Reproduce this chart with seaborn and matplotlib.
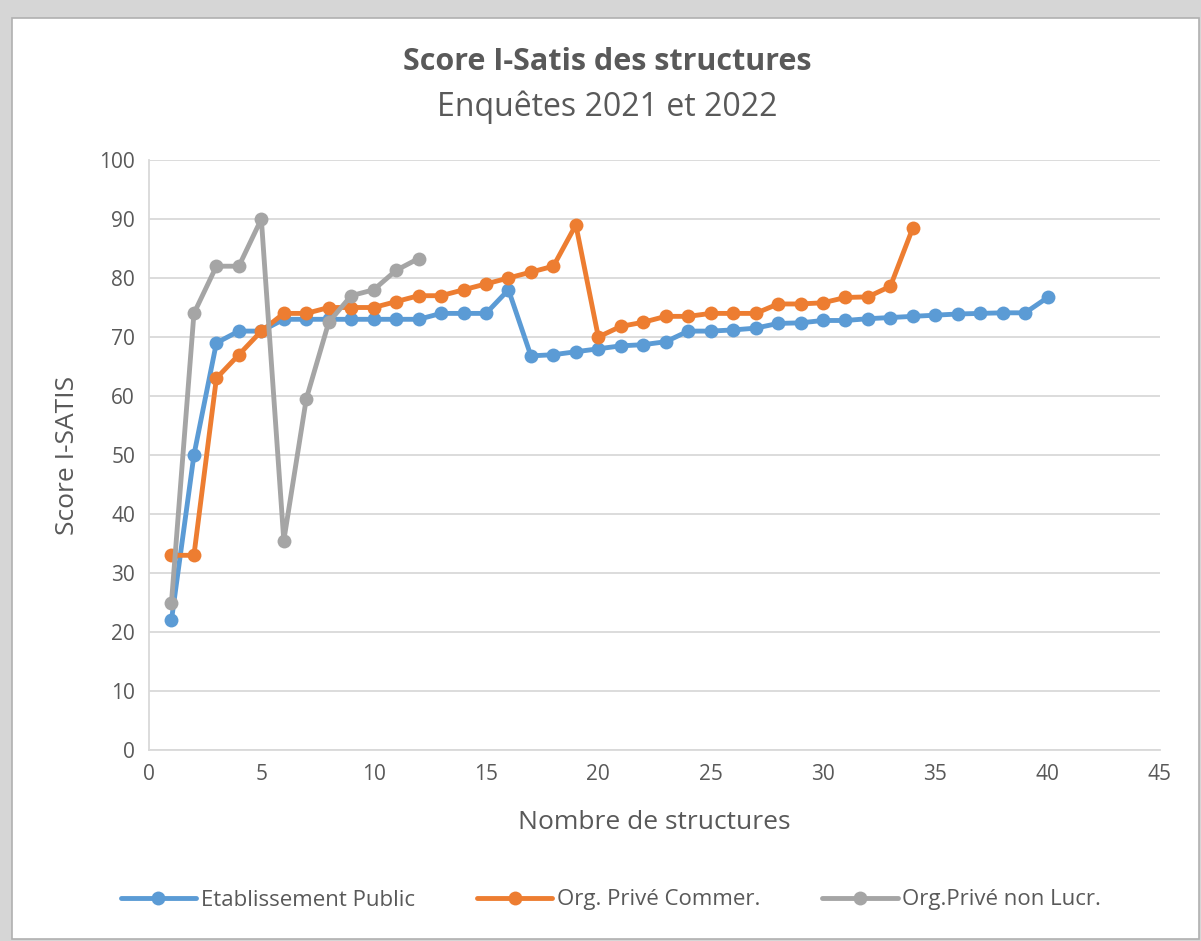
import pandas as pd
import seaborn as sb
import matplotlib.pyplot as plt
from matplotlib.patches import Rectangle

# values
x_public = list(range(1, 41))
y_public = [22, 50, 69, 71, 71, 73, 73, 73, 73, 73,
            73, 73, 74, 74, 74, 78, 66.8, 67, 67.5, 68,
            68.5, 68.7, 69.2, 71, 71, 71.2, 71.5, 72.3, 72.4, 72.8,
            72.8, 73.1, 73.3, 73.5, 73.7, 73.9, 74, 74.1, 74.1, 76.7]

x_commer = list(range(1, 35))
y_commer = [33, 33, 63, 67, 71, 74, 74, 75, 75, 75,
            76, 77, 77, 78, 79, 80, 81, 82, 89, 70,
            71.8, 72.5, 73.5, 73.5, 74, 74, 74, 75.6, 75.6, 75.8,
            76.7, 76.8, 78.6, 88.5]

x_nonlucr = list(range(1, 13))
y_nonlucr = [25, 74, 82, 82, 90, 35.5, 59.5, 72.5, 77, 78, 81.3, 83.3]

series_names = ['Etablissement Public', 'Org. Privé Commer.', 'Org.Privé non Lucr.']
colors = ['#5B9BD5', '#ED7D31', '#A5A5A5']

df = pd.concat([
    pd.DataFrame({'x': x_public, 'y': y_public, 'serie': series_names[0]}),
    pd.DataFrame({'x': x_commer, 'y': y_commer, 'serie': series_names[1]}),
    pd.DataFrame({'x': x_nonlucr, 'y': y_nonlucr, 'serie': series_names[2]}),
])

sb.set_style('white')
plt.rcParams['font.family'] = ['Open Sans', 'DejaVu Sans']
txt = '#595959'

fig = plt.figure(figsize=(12.01, 9.41), dpi=100, facecolor='#D6D6D6')
W, H = 1201, 941
# white chart frame with shadow
frame = Rectangle((12 / W, 1 - 939 / H), (1199 - 12) / W, (939 - 18) / H,
                  transform=fig.transFigure, facecolor='white',
                  edgecolor='#B0B0B0', lw=1.2, zorder=-10)
fig.add_artist(frame)

ax = fig.add_axes([149 / W, 1 - 750 / H, (1160 - 149) / W, (750 - 160) / H])
ax.set_facecolor('white')

sb.lineplot(data=df, x='x', y='y', hue='serie', hue_order=series_names,
            palette=colors, marker='o', markersize=10, markeredgewidth=0,
            linewidth=3.5, sort=False, estimator=None, ax=ax, zorder=3)

ax.set_xlim(0, 45)
ax.set_ylim(0, 100)
ax.set_xticks(range(0, 46, 5))
ax.set_yticks(range(0, 101, 10))
ax.yaxis.grid(True, color='#D9D9D9', lw=1.3)
ax.xaxis.grid(False)
for s in ['top', 'right']:
    ax.spines[s].set_visible(False)
ax.spines['left'].set_color('#D9D9D9')
ax.spines['bottom'].set_color('#D9D9D9')
ax.spines['left'].set_linewidth(1.3)
ax.spines['bottom'].set_linewidth(1.3)
ax.tick_params(axis='both', length=0, labelsize=15, colors=txt, pad=10)

ax.set_xlabel('Nombre de structures', fontsize=19, color=txt, labelpad=18)
ax.set_ylabel('Score I-SATIS', fontsize=19, color=txt, labelpad=14)

fig.text(607 / W, 1 - 62 / H, 'Score I-Satis des structures', ha='center', va='center',
         fontsize=22, fontweight='bold', color=txt)
fig.text(607 / W, 1 - 107 / H, 'Enquêtes 2021 et 2022', ha='center', va='center',
         fontsize=23, color=txt)

ax.legend(loc='center', bbox_to_anchor=(611 / W, 1 - 900 / H), bbox_transform=fig.transFigure,
          ncol=3, frameon=False, fontsize=16, labelcolor=txt, handlelength=3.4,
          handletextpad=0.2, columnspacing=2.8)

plt.savefig('out.png', dpi=100, facecolor=fig.get_facecolor())
